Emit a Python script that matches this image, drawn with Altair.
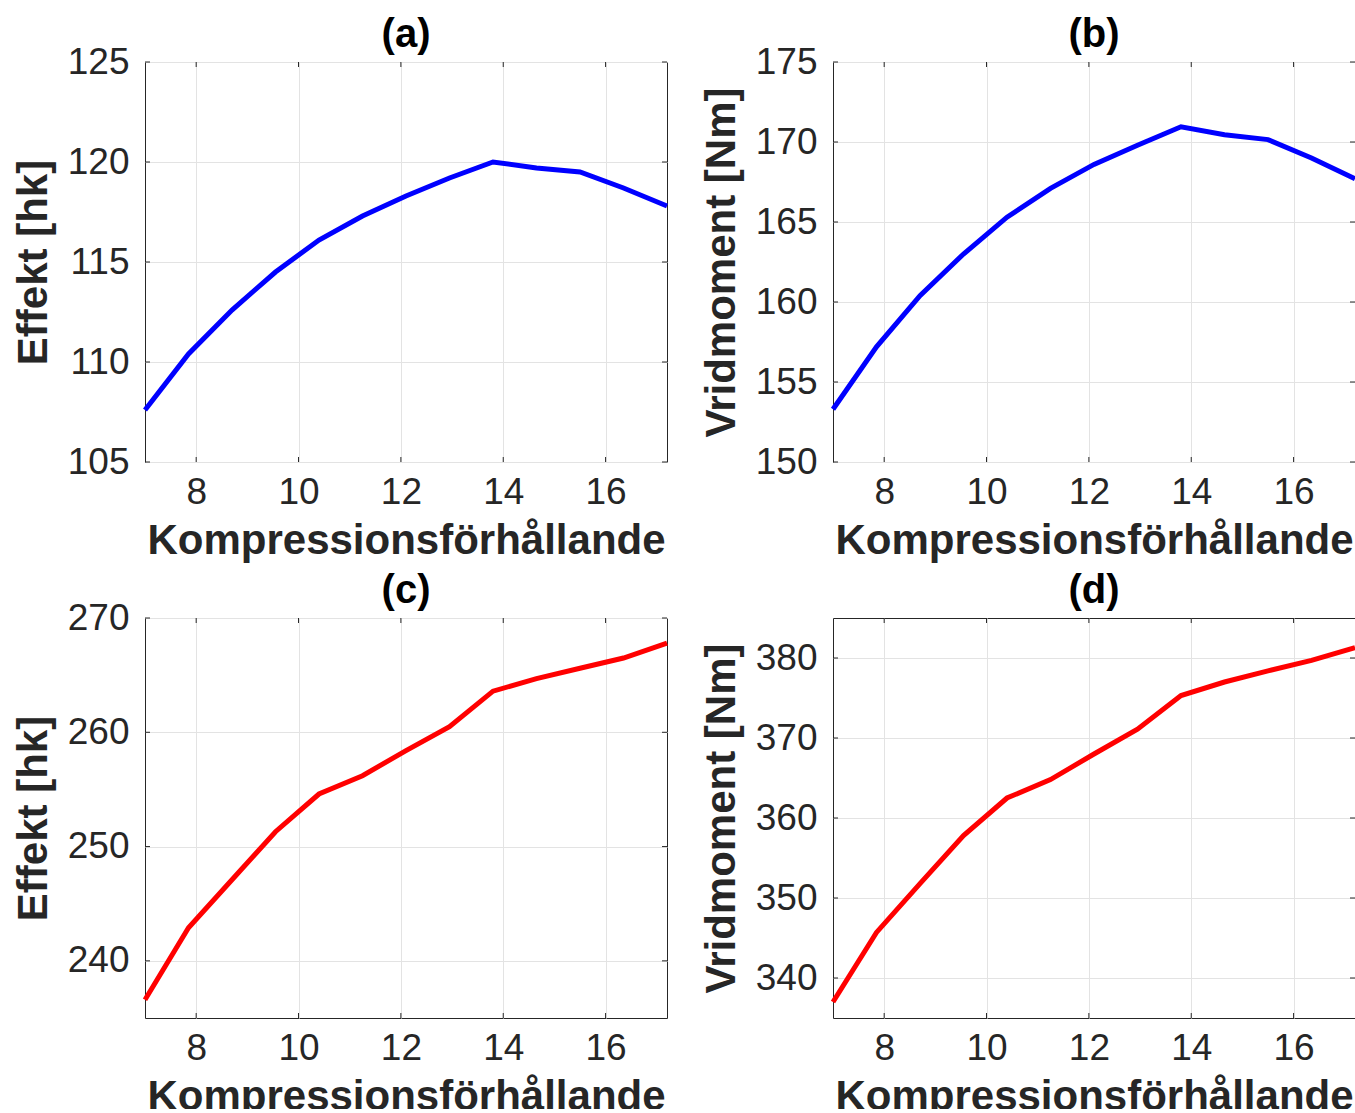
import altair as alt
import pandas as pd

# ---- data ----
ratio = [7.0, 7.85, 8.7, 9.55, 10.4, 11.25, 12.1, 12.95, 13.8, 14.65, 15.5, 16.35, 17.2]
power_a = [107.6, 110.4, 112.6, 114.5, 116.1, 117.3, 118.3, 119.2, 120.0, 119.7, 119.5, 118.7, 117.8]
torque_b = [153.3, 157.2, 160.4, 163.0, 165.3, 167.1, 168.6, 169.8, 170.95, 170.45, 170.15, 169.0, 167.7]
power_c = [236.6, 242.9, 247.1, 251.3, 254.6, 256.2, 258.4, 260.5, 263.6, 264.7, 265.6, 266.5, 267.8]
torque_d = [337.0, 345.7, 351.8, 357.8, 362.5, 364.8, 368.0, 371.1, 375.3, 377.0, 378.4, 379.7, 381.3]

x_ticks = [8, 10, 12, 14, 16]
ticks_a = [105, 110, 115, 120, 125]
ticks_b = [150, 155, 160, 165, 170, 175]
ticks_c = [240, 250, 260, 270]
ticks_d = [340, 350, 360, 370, 380]

panel_titles = ["(a)", "(b)", "(c)", "(d)"]
x_title = "Kompressionsförhållande"
FONT = "Liberation Sans"
INK = "#262626"
W, H = 522, 400
TICK = 5
PAGE_W, PAGE_H = 1355, 1113
LEFT, TOP = 145, 62


def panel(values, color, title, ytitle, ydomain, yticks):
    df = pd.DataFrame({"x": ratio, "y": values})
    xs = alt.Scale(domain=[7, 17.2], nice=False, zero=False)
    ys = alt.Scale(domain=ydomain, nice=False, zero=False)
    xaxis = alt.Axis(values=x_ticks, title=x_title, format="d")
    yaxis = alt.Axis(values=yticks, title=ytitle, format="d")

    def xe(f):
        return alt.X(f + ":Q", scale=xs, axis=xaxis, title=x_title)

    def ye(f):
        return alt.Y(f + ":Q", scale=ys, axis=yaxis, title=ytitle)

    xt = pd.DataFrame({"t": x_ticks})
    yt = pd.DataFrame({"t": yticks})
    line = alt.Chart(df).mark_line(color=color, strokeWidth=5).encode(x=xe("x"), y=ye("y"))
    tb = alt.Chart(xt).mark_rule(color=INK, strokeWidth=1).encode(
        x=xe("t"), y=alt.value(H - TICK), y2=alt.value(H))
    tt = alt.Chart(xt).mark_rule(color=INK, strokeWidth=1).encode(
        x=xe("t"), y=alt.value(0), y2=alt.value(TICK))
    tl = alt.Chart(yt).mark_rule(color=INK, strokeWidth=1).encode(
        y=ye("t"), x=alt.value(0), x2=alt.value(TICK))
    tr = alt.Chart(yt).mark_rule(color=INK, strokeWidth=1).encode(
        y=ye("t"), x=alt.value(W - TICK), x2=alt.value(W))
    ttl = alt.Chart(pd.DataFrame({"label": [title]})).mark_text(
        font=FONT, fontSize=40, fontWeight="bold", color="#000000",
        align="center", baseline="alphabetic",
    ).encode(text="label:N", x=alt.value(W / 2), y=alt.value(-15))
    return alt.layer(line, tb, tt, tl, tr, ttl).properties(width=W, height=H)


a = panel(power_a, "#0000FF", panel_titles[0], "Effekt [hk]", [105, 125], ticks_a)
b = panel(torque_b, "#0000FF", panel_titles[1], "Vridmoment [Nm]", [150, 175], ticks_b)
c = panel(power_c, "#FF0000", panel_titles[2], "Effekt [hk]", [235, 270], ticks_c)
d = panel(torque_d, "#FF0000", panel_titles[3], "Vridmoment [Nm]", [335, 385], ticks_d)

chart = alt.concat(
    a, b, c, d, columns=2, spacing={"row": 156, "column": 166}, bounds="flush"
).properties(
    autosize=alt.AutoSizeParams(type="none"),
    padding={"left": LEFT, "top": TOP, "right": PAGE_W - LEFT, "bottom": PAGE_H - TOP - 4},
    background="white",
).configure_view(
    stroke=INK, strokeWidth=1
).configure_axis(
    labelFont=FONT, labelFontSize=37, labelColor=INK, labelPadding=16,
    titleFont=FONT, titleFontSize=42, titleFontWeight="bold", titleColor=INK,
    grid=True, gridColor="#e3e3e3", gridWidth=1,
    domain=False, ticks=False,
).configure_axisX(
    labelPadding=12, titlePadding=10,
).configure_axisY(
    titlePadding=12,
)

chart.save("out.html", embed_options={"renderer": "svg", "actions": False})
